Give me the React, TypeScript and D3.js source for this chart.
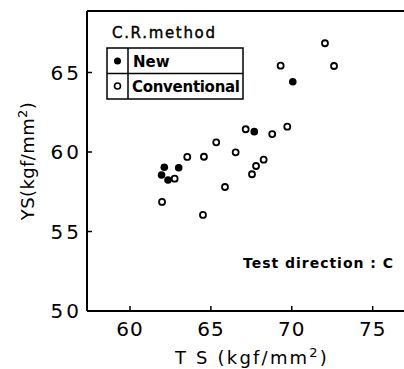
import React from "react";
import * as d3 from "d3";

const xTicks = [60, 65, 70, 75];
const yTicks = [50, 55, 60, 65];
const conventionalTS = [72.05, 69.31, 72.61, 67.15, 68.79, 69.72, 65.33, 66.53, 64.57, 63.54, 68.26, 67.79, 67.54, 62.76, 65.87, 61.98, 64.51];
const conventionalYS = [66.84, 65.43, 65.41, 61.43, 61.13, 61.59, 60.61, 59.98, 59.7, 59.69, 59.52, 59.12, 58.6, 58.32, 57.8, 56.86, 56.04];
const newTS = [70.06, 67.68, 62.12, 63.01, 61.95, 62.35];
const newYS = [64.42, 61.28, 59.04, 59.01, 58.55, 58.24];

const W = 404, H = 369;
const left = 87, top = 11, bottom = 311, right = 404;

export default function App() {
  const x = d3.scaleLinear().domain([60, 75]).range([130, 372.7]);
  const y = d3.scaleLinear().domain([50, 65]).range([bottom, 72.5]);
  const font = "'DejaVu Sans', sans-serif";
  return (
    <svg width={W} height={H} style={{ position: "absolute", left: 0, top: 0, background: "#fff" }}>
      <g stroke="#000" strokeWidth={2} fill="none">
        <line x1={left} y1={top} x2={right} y2={top} />
        <line x1={left} y1={top} x2={left} y2={bottom} />
        <line x1={left} y1={bottom} x2={right} y2={bottom} />
        {xTicks.map(t => <line key={"xt" + t} x1={x(t)} x2={x(t)} y1={bottom} y2={bottom - 5} strokeWidth={1.5} />)}
        {yTicks.map(t => <line key={"yt" + t} x1={left} x2={left + 5} y1={y(t)} y2={y(t)} strokeWidth={1.5} />)}
      </g>
      <g fontFamily={font} fontSize={20} fill="#000">
        {xTicks.map(t => <text key={"xl" + t} x={x(t)} y={336} textAnchor="middle" letterSpacing={1}>{t}</text>)}
        {yTicks.map(t => <text key={"yl" + t} x={82} y={y(t) + 7} textAnchor="end" letterSpacing={3}>{t}</text>)}
      </g>
      <text x={252} y={364} textAnchor="middle" fontFamily={font} fontSize={18} letterSpacing={2.2}>
        T S  (kgf/mm<tspan dy={-7} fontSize={13}>2</tspan><tspan dy={7}>)</tspan>
      </text>
      <text transform="translate(34,161) rotate(-90)" textAnchor="middle" fontFamily={font} fontSize={18} letterSpacing={0.4}>
        YS(kgf/mm<tspan dy={-7} fontSize={13}>2</tspan><tspan dy={7}>)</tspan>
      </text>
      {/* legend */}
      <text x={112} y={38} fontFamily={font} fontSize={15} stroke="#000" strokeWidth={0.4} textLength={103}>C.R.method</text>
      <g stroke="#000" strokeWidth={1.5} fill="none">
        <rect x={107} y={48} width={136} height={51} />
        <line x1={107} x2={243} y1={73.5} y2={73.5} />
        <line x1={128} x2={128} y1={48} y2={99} />
      </g>
      <circle cx={117.5} cy={61} r={3.5} fill="#000" />
      <circle cx={117.5} cy={86} r={3} fill="#fff" stroke="#000" strokeWidth={1.6} />
      <text x={133} y={67} fontFamily={font} fontSize={15} fontWeight="bold">New</text>
      <text x={132} y={92} fontFamily={font} fontSize={15} fontWeight="bold" textLength={108}>Conventional</text>
      <text x={243} y={268} fontFamily={font} fontSize={14} fontWeight="bold" textLength={150}>Test  direction : C</text>
      {conventionalTS.map((v, i) => (
        <circle key={"c" + i} cx={x(v)} cy={y(conventionalYS[i])} r={3} fill="#fff" stroke="#000" strokeWidth={1.8} />
      ))}
      {newTS.map((v, i) => (
        <circle key={"n" + i} cx={x(v)} cy={y(newYS[i])} r={3.8} fill="#000" />
      ))}
    </svg>
  );
}
